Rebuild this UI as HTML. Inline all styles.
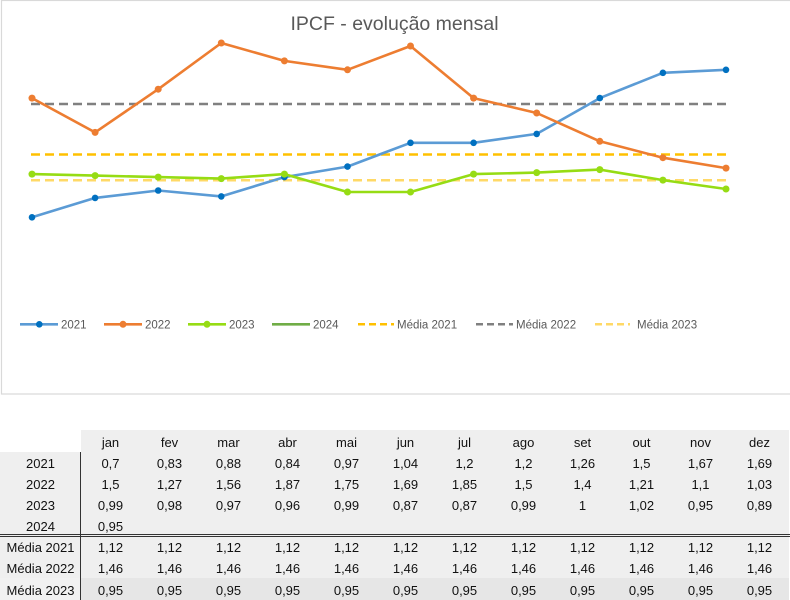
<!DOCTYPE html>
<html><head><meta charset="utf-8">
<style>
html,body{margin:0;padding:0;background:#fff;width:790px;height:600px;overflow:hidden;}
#chart{position:absolute;left:0;top:0;}
#tbl{position:absolute;left:0;top:430px;border-collapse:collapse;table-layout:fixed;width:789px;font-family:"Liberation Sans",sans-serif;font-size:13px;color:#111;}
#tbl td{padding:2px 0 0 0;text-align:center;height:19px;background:#efefef;white-space:nowrap;}
#tbl tr.h td{height:20px;}
#tbl tr.h td.e{background:#fff;}
#tbl tr.l td{height:20px;background:#e6e6e6;}
#tbl tr.l td.rl{background:#f1f1f1;}
.vl{position:absolute;left:80px;top:452px;width:1.3px;height:148px;background:#333;}
.dl{position:absolute;left:0;top:534px;width:790px;height:0;border-top:3px double #333;}
</style></head>
<body>
<svg id="chart" width="790" height="396" viewBox="0 0 790 396" xmlns="http://www.w3.org/2000/svg">
<rect x="1.5" y="0.5" width="800" height="393.5" fill="#fff" stroke="#d9d9d9" stroke-width="1.2"/>
<text x="394.5" y="30" text-anchor="middle" font-family="Liberation Sans, sans-serif" font-size="19.5" fill="#595959">IPCF - evolução mensal</text>
<line x1="31" y1="154.5" x2="726" y2="154.5" stroke="#ffc000" stroke-width="2.5" stroke-dasharray="9 5"/>
<line x1="31" y1="104" x2="726" y2="104" stroke="#808080" stroke-width="2.5" stroke-dasharray="9 5"/>
<line x1="31" y1="180.2" x2="726" y2="180.2" stroke="#ffd966" stroke-width="2.5" stroke-dasharray="9 5"/>
<polyline fill="none" stroke="#5b9bd5" stroke-width="2.6" stroke-linejoin="round" points="32,217.3 95.1,197.9 158.2,190.5 221.3,196.4 284.4,177.1 347.5,166.6 410.5,142.8 473.6,142.8 536.7,133.9 599.8,98.1 662.9,72.8 726,69.8"/>
<g fill="#0070c0">
<circle cx="32" cy="217.3" r="3.3"/><circle cx="95.1" cy="197.9" r="3.3"/><circle cx="158.2" cy="190.5" r="3.3"/><circle cx="221.3" cy="196.4" r="3.3"/><circle cx="284.4" cy="177.1" r="3.3"/><circle cx="347.5" cy="166.6" r="3.3"/><circle cx="410.5" cy="142.8" r="3.3"/><circle cx="473.6" cy="142.8" r="3.3"/><circle cx="536.7" cy="133.9" r="3.3"/><circle cx="599.8" cy="98.1" r="3.3"/><circle cx="662.9" cy="72.8" r="3.3"/><circle cx="726" cy="69.8" r="3.3"/>
</g>
<polyline fill="none" stroke="#ed7d31" stroke-width="2.6" stroke-linejoin="round" points="32,98.1 95.1,132.4 158.2,89.2 221.3,43 284.4,60.9 347.5,69.8 410.5,46 473.6,98.1 536.7,113 599.8,141.3 662.9,157.7 726,168.1"/>
<g fill="#ed7d31">
<circle cx="32" cy="98.1" r="3.5"/><circle cx="95.1" cy="132.4" r="3.5"/><circle cx="158.2" cy="89.2" r="3.5"/><circle cx="221.3" cy="43" r="3.5"/><circle cx="284.4" cy="60.9" r="3.5"/><circle cx="347.5" cy="69.8" r="3.5"/><circle cx="410.5" cy="46" r="3.5"/><circle cx="473.6" cy="98.1" r="3.5"/><circle cx="536.7" cy="113" r="3.5"/><circle cx="599.8" cy="141.3" r="3.5"/><circle cx="662.9" cy="157.7" r="3.5"/><circle cx="726" cy="168.1" r="3.5"/>
</g>
<polyline fill="none" stroke="#96dc14" stroke-width="2.6" stroke-linejoin="round" points="32,174.1 95.1,175.6 158.2,177.1 221.3,178.6 284.4,174.1 347.5,192 410.5,192 473.6,174.1 536.7,172.6 599.8,169.6 662.9,180.1 726,189"/>
<g fill="#96dc14">
<circle cx="32" cy="174.1" r="3.5"/><circle cx="95.1" cy="175.6" r="3.5"/><circle cx="158.2" cy="177.1" r="3.5"/><circle cx="221.3" cy="178.6" r="3.5"/><circle cx="284.4" cy="174.1" r="3.5"/><circle cx="347.5" cy="192" r="3.5"/><circle cx="410.5" cy="192" r="3.5"/><circle cx="473.6" cy="174.1" r="3.5"/><circle cx="536.7" cy="172.6" r="3.5"/><circle cx="599.8" cy="169.6" r="3.5"/><circle cx="662.9" cy="180.1" r="3.5"/><circle cx="726" cy="189" r="3.5"/>
</g>
<g font-family="Liberation Sans, sans-serif" font-size="11.5" fill="#595959">
<line x1="20" y1="324.3" x2="58" y2="324.3" stroke="#5b9bd5" stroke-width="2.6"/>
<circle cx="39.3" cy="324.3" r="3.3" fill="#0070c0"/>
<text x="61" y="328.3">2021</text>
<line x1="104" y1="324.3" x2="142" y2="324.3" stroke="#ed7d31" stroke-width="2.6"/>
<circle cx="123" cy="324.3" r="3.5" fill="#ed7d31"/>
<text x="145" y="328.3">2022</text>
<line x1="188" y1="324.3" x2="226" y2="324.3" stroke="#96dc14" stroke-width="2.6"/>
<circle cx="207" cy="324.3" r="3.5" fill="#96dc14"/>
<text x="229" y="328.3">2023</text>
<line x1="272" y1="324.3" x2="310" y2="324.3" stroke="#70ad47" stroke-width="2.6"/>
<text x="313" y="328.3">2024</text>
<line x1="358" y1="324.3" x2="394" y2="324.3" stroke="#ffc000" stroke-width="2.5" stroke-dasharray="7 4"/>
<text x="397" y="328.3">Média 2021</text>
<line x1="476" y1="324.3" x2="513" y2="324.3" stroke="#808080" stroke-width="2.5" stroke-dasharray="7 4"/>
<text x="516" y="328.3">Média 2022</text>
<line x1="595" y1="324.3" x2="630" y2="324.3" stroke="#ffd966" stroke-width="2.5" stroke-dasharray="7 4"/>
<text x="637" y="328.3">Média 2023</text>
</g>
</svg>

<table id="tbl">
<colgroup><col style="width:81px"><col style="width:59px"><col style="width:59px"><col style="width:59px"><col style="width:59px"><col style="width:59px"><col style="width:59px"><col style="width:59px"><col style="width:59px"><col style="width:59px"><col style="width:59px"><col style="width:59px"><col style="width:59px"></colgroup>
<tr class="h"><td class="e"></td><td>jan</td><td>fev</td><td>mar</td><td>abr</td><td>mai</td><td>jun</td><td>jul</td><td>ago</td><td>set</td><td>out</td><td>nov</td><td>dez</td></tr>
<tr><td>2021</td><td>0,7</td><td>0,83</td><td>0,88</td><td>0,84</td><td>0,97</td><td>1,04</td><td>1,2</td><td>1,2</td><td>1,26</td><td>1,5</td><td>1,67</td><td>1,69</td></tr>
<tr><td>2022</td><td>1,5</td><td>1,27</td><td>1,56</td><td>1,87</td><td>1,75</td><td>1,69</td><td>1,85</td><td>1,5</td><td>1,4</td><td>1,21</td><td>1,1</td><td>1,03</td></tr>
<tr><td>2023</td><td>0,99</td><td>0,98</td><td>0,97</td><td>0,96</td><td>0,99</td><td>0,87</td><td>0,87</td><td>0,99</td><td>1</td><td>1,02</td><td>0,95</td><td>0,89</td></tr>
<tr><td>2024</td><td>0,95</td><td></td><td></td><td></td><td></td><td></td><td></td><td></td><td></td><td></td><td></td><td></td></tr>
<tr><td>Média 2021</td><td>1,12</td><td>1,12</td><td>1,12</td><td>1,12</td><td>1,12</td><td>1,12</td><td>1,12</td><td>1,12</td><td>1,12</td><td>1,12</td><td>1,12</td><td>1,12</td></tr>
<tr><td>Média 2022</td><td>1,46</td><td>1,46</td><td>1,46</td><td>1,46</td><td>1,46</td><td>1,46</td><td>1,46</td><td>1,46</td><td>1,46</td><td>1,46</td><td>1,46</td><td>1,46</td></tr>
<tr class="l"><td class="rl">Média 2023</td><td>0,95</td><td>0,95</td><td>0,95</td><td>0,95</td><td>0,95</td><td>0,95</td><td>0,95</td><td>0,95</td><td>0,95</td><td>0,95</td><td>0,95</td><td>0,95</td></tr>
</table>
<div class="vl"></div>
<div class="dl"></div>
</body></html>
